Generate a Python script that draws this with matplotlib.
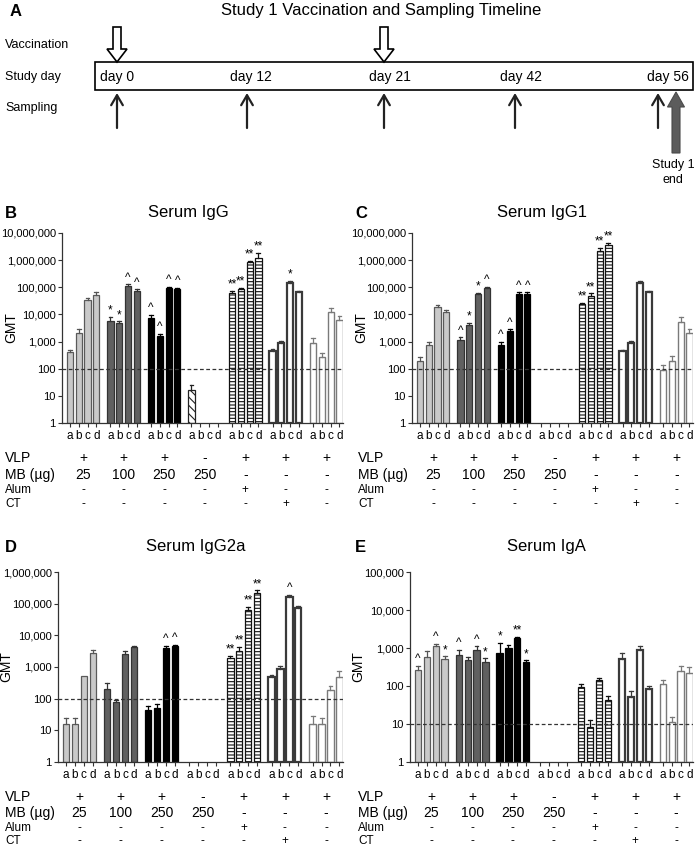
import matplotlib
matplotlib.use('Agg')
import matplotlib.pyplot as plt
from matplotlib.patches import FancyArrow, Rectangle
from matplotlib.ticker import FixedLocator, FuncFormatter, NullLocator
import matplotlib.transforms as mtransforms

plt.rcParams['font.family'] = ['Liberation Sans', 'DejaVu Sans']
plt.rcParams['hatch.linewidth'] = 0.8

W, H, DPI = 697, 846, 100

# ---------------- data ----------------
letters = ['a', 'b', 'c', 'd']
timeline_title = 'Study 1 Vaccination and Sampling Timeline'
timeline_days = ['day 0', 'day 12', 'day 21', 'day 42', 'day 56']
vaccination_days = [0, 2]          # indices into timeline_days
sampling_days = [0, 1, 2, 3, 4]

row_labels = ['VLP', 'MB (\u00b5g)', 'Alum', 'CT']
vlp = ['+', '+', '+', '-', '+', '+', '+']
mb = ['25', '100', '250', '250', '-', '-', '-']
alum = ['-', '-', '-', '-', '+', '-', '-']
ct = ['-', '-', '-', '-', '-', '+', '-']

N = None
igg_gmt = [[420, 2100, 34000, 52000], [5500, 4800, 112000, 74000],
           [7100, 1660, 98000, 87000], [16, N, N, N],
           [60000, 87000, 870000, 1230000], [455, 850, 148000, 69000],
           [850, 275, 11800, 6300]]
igg_err = [[510, 2900, 40000, 66000], [8000, 5500, 129000, 85000],
           [9700, 1960, 105000, 97000], [25, N, N, N],
           [74000, 97000, 950000, 1860000], [540, 1090, 175000, 76000],
           [1360, 365, 17000, 8900]]
igg_sig = [['', '', '', ''], ['*', '*', '^', '^'], ['^', '^', '^', '^'],
           ['', '', '', ''], ['**', '**', '**', '**'], ['', '', '*', ''],
           ['', '', '', '']]

igg1_gmt = [[200, 780, 18000, 11800], [1180, 4100, 55000, 92000],
            [760, 2400, 59000, 59000], [N, N, N, N],
            [25000, 48000, 2240000, 3700000], [445, 870, 148000, 67000],
            [92, 186, 5100, 2000]]
igg1_err = [[270, 950, 22000, 14800], [1440, 4800, 63000, 105000],
            [1000, 2900, 67000, 67000], [N, N, N, N],
            [27500, 60000, 2800000, 4300000], [510, 1090, 170000, 74000],
            [140, 290, 7800, 2900]]
igg1_sig = [['', '', '', ''], ['^', '*', '*', '^'], ['^', '^', '^', '^'],
            ['', '', '', ''], ['**', '**', '**', '**'], ['', '', '', ''],
            ['', '', '', '']]

igg2a_gmt = [[16, 16, 510, 2800], [200, 76, 2600, 4300],
             [43, 51, 4000, 4700], [N, N, N, N],
             [1900, 3300, 65000, 218000], [470, 870, 158000, 73000],
             [16, 16, 192, 480]]
igg2a_err = [[25, 25, 510, 3500], [310, 93, 3300, 4700],
             [60, 69, 4700, 5100], [N, N, N, N],
             [2300, 4300, 78000, 263000], [570, 1100, 190000, 83000],
             [28, 25, 255, 730]]
igg2a_sig = [['', '', '', ''], ['', '', '', ''], ['', '', '^', '^'],
             ['', '', '', ''], ['**', '**', '**', '**'], ['', '', '^', ''],
             ['', '', '', '']]

iga_gmt = [[270, 585, 1100, 500], [670, 475, 910, 430],
           [740, 1000, 1820, 430], [N, N, N, N],
           [96, 8.2, 144, 43], [520, 50, 900, 82],
           [110, 11, 245, 225]]
iga_err = [[345, 820, 1300, 600], [900, 585, 1100, 530],
           [1350, 1200, 2000, 470], [N, N, N, N],
           [115, 12.7, 165, 55], [740, 74, 1150, 100],
           [144, 15.5, 345, 315]]
iga_sig = [['^', '', '^', '*'], ['^', '', '^', '*'], ['*', '', '**', '*'],
           ['', '', '', ''], ['', '', '', ''], ['', '', '', ''],
           ['', '', '', '']]

# ---------------- styles ----------------
styles = [
    dict(facecolor='#c9c9c9', edgecolor='#5a5a5a', linewidth=0.9),
    dict(facecolor='#606060', edgecolor='#333333', linewidth=0.9),
    dict(facecolor='#000000', edgecolor='#000000', linewidth=0.9),
    dict(facecolor='white', edgecolor='#222222', linewidth=0.9, hatch='\\\\\\\\'),
    dict(facecolor='white', edgecolor='#111111', linewidth=0.9, hatch='-----'),
    dict(facecolor='white', edgecolor='#3a3a3a', linewidth=1.6),
    dict(facecolor='white', edgecolor='#7a7a7a', linewidth=1.0),
]
err_colors = ['#555555', '#333333', '#000000', '#222222', '#111111', '#3a3a3a', '#7a7a7a']

fig = plt.figure(figsize=(W / DPI, H / DPI), dpi=DPI)


def fx(px):
    return px / W


def fy(py):
    return 1 - py / H


def rect(x0, y0, x1, y1):
    return [fx(x0), fy(y1), fx(x1) - fx(x0), (y1 - y0) / H]


# ---------------- panel A ----------------
axA = fig.add_axes([0, fy(195), 1, 195 / H])
axA.set_xlim(0, W)
axA.set_ylim(195, 0)
axA.axis('off')
axA.text(10, 12, 'A', fontsize=12, fontweight='bold', va='center', ha='left')
axA.text(381, 11, timeline_title, fontsize=12, va='center', ha='center')
axA.text(5, 45, 'Vaccination', fontsize=9, va='center')
axA.text(5, 77, 'Study day', fontsize=9, va='center')
axA.text(5, 108, 'Sampling', fontsize=9, va='center')
axA.add_patch(Rectangle((95, 62), 598, 28, fill=False, lw=1.2, ec='black'))
day_x = [117, 251, 390, 521, 668]
arrow_x = [117, 247, 384, 515, 658]
for i, d in enumerate(timeline_days):
    axA.text(day_x[i], 77, d, fontsize=10, ha='center', va='center')
for i in vaccination_days:
    axA.add_patch(FancyArrow(arrow_x[i], 27, 0, 35, width=8, head_width=20,
                             head_length=13, length_includes_head=True,
                             fc='white', ec='black', lw=1.2))
for i in sampling_days:
    axA.annotate('', xy=(arrow_x[i], 93), xytext=(arrow_x[i], 128),
                 arrowprops=dict(arrowstyle='->,head_length=0.6,head_width=0.35',
                                 lw=1.6, color='#222222', mutation_scale=12,
                                 shrinkA=0, shrinkB=0))
axA.add_patch(FancyArrow(676, 153, 0, -61, width=8, head_width=17,
                         head_length=15, length_includes_head=True,
                         fc='#5c5c5c', ec='#4a4a4a', lw=0.8))
axA.text(673, 165, 'Study 1', fontsize=9, ha='center', va='center')
axA.text(673, 180, 'end', fontsize=9, ha='center', va='center')


# ---------------- bar panels ----------------
def bar_x(g, i):
    return g * 4.6 + i


def draw_panel(box, gmt, err, sig, top_exp, dash, title, label,
               title_xy, label_xy, table_x, table_y):
    ax = fig.add_axes(rect(*box))
    ax.set_yscale('log')
    for g in range(7):
        for i in range(4):
            v = gmt[g][i]
            if v is None:
                continue
            x = bar_x(g, i)
            ax.bar(x, v - 1, bottom=1, width=0.7, zorder=2, **styles[g])
            e = err[g][i]
            top = v
            if e is not None and e > v:
                ax.plot([x, x], [v, e], color=err_colors[g], lw=0.9, zorder=3)
                ax.plot([x - 0.22, x + 0.22], [e, e], color=err_colors[g],
                        lw=0.9, zorder=3)
                top = e
            s = sig[g][i]
            if s:
                ax.text(x, top * 1.03, s, ha='center', va='bottom',
                        fontsize=8.5, zorder=4)
    ax.axhline(dash, ls=(0, (3, 2)), color='#333333', lw=0.9, zorder=5)
    ax.set_ylim(1, 10 ** top_exp)
    ax.set_xlim(-0.9, 31.0)
    ax.yaxis.set_major_locator(FixedLocator([10 ** k for k in range(top_exp + 1)]))
    ax.yaxis.set_minor_locator(NullLocator())
    ax.yaxis.set_major_formatter(FuncFormatter(lambda v, p: f'{int(round(v)):,}'))
    xt = [bar_x(g, i) for g in range(7) for i in range(4)]
    ax.set_xticks(xt)
    ax.set_xticklabels(letters * 7, fontsize=8.5)
    ax.tick_params(axis='x', length=3, width=0.8, pad=2, color='#333333')
    ax.tick_params(axis='y', length=3, width=0.8, pad=1.5, labelsize=8,
                   color='#333333')
    for sp in ['top', 'right']:
        ax.spines[sp].set_visible(False)
    for sp in ['left', 'bottom']:
        ax.spines[sp].set_linewidth(0.9)
        ax.spines[sp].set_color('#333333')
    ax.set_ylabel('GMT', fontsize=10)
    ax.yaxis.set_label_coords(-0.157, 0.5)
    fig.text(fx(label_xy[0]), fy(label_xy[1]), label, fontsize=12,
             fontweight='bold', va='center', ha='left')
    fig.text(fx(title_xy[0]), fy(title_xy[1]), title, fontsize=12,
             va='center', ha='center')
    # table
    trans = mtransforms.blended_transform_factory(ax.transData, fig.transFigure)
    rows = [vlp, mb, alum, ct]
    sizes = [10, 10, 8.5, 8.5]
    for r in range(4):
        fig.text(fx(table_x), fy(table_y[r]), row_labels[r], fontsize=sizes[r],
                 va='center', ha='left')
        for g in range(7):
            ax.text(bar_x(g, 1.5), fy(table_y[r]), rows[r][g], transform=trans,
                    fontsize=sizes[r], ha='center', va='center', clip_on=False)
    return ax


draw_panel((62, 233, 343, 423), igg_gmt, igg_err, igg_sig, 7, 100,
           'Serum IgG', 'B', (188, 212), (5, 213), 5, [458, 475, 490, 504])
draw_panel((412, 233, 693, 423), igg1_gmt, igg1_err, igg1_sig, 7, 100,
           'Serum IgG1', 'C', (542, 212), (355, 213), 358, [458, 475, 490, 504])
draw_panel((58, 572, 343, 762), igg2a_gmt, igg2a_err, igg2a_sig, 6, 100,
           'Serum IgG2a', 'D', (196, 547), (5, 547), 5, [797, 813, 828, 841])
draw_panel((410, 572, 693, 762), iga_gmt, iga_err, iga_sig, 5, 10,
           'Serum IgA', 'E', (546, 547), (355, 547), 358, [797, 813, 828, 841])

fig.savefig('out.png', dpi=DPI)
